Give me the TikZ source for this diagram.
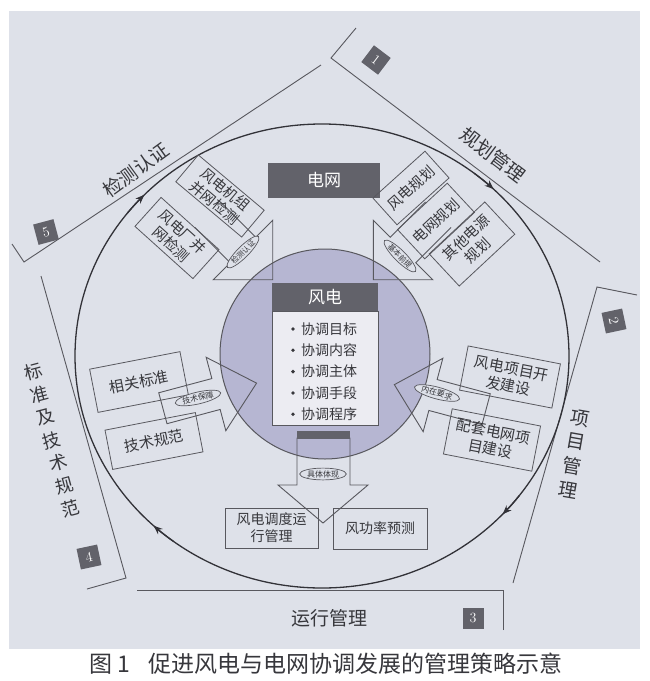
\documentclass[tikz,border=0pt]{standalone}
\usepackage{fontspec}
\newfontfamily\cjk{Noto Sans CJK SC}
\usetikzlibrary{shapes.geometric,arrows.meta,calc}
\definecolor{panelc}{RGB}{222,225,233}
\definecolor{linec}{RGB}{88,88,94}
\definecolor{ellc}{RGB}{50,50,56}
\definecolor{darkc}{RGB}{98,98,106}
\definecolor{corec}{RGB}{182,182,210}
\definecolor{bodyc}{RGB}{236,236,242}
\definecolor{txtc}{RGB}{55,55,60}
\begin{document}
\begin{tikzpicture}[x=1pt,y=1pt,
  box/.style={draw=linec, line width=0.8pt, inner sep=1pt, align=center, text=txtc, font=\cjk\fontsize{14.5}{17}\selectfont},
  sbox/.style={box, font=\cjk\fontsize{15}{18}\selectfont},
  sect/.style={draw=linec, line width=0.9pt},
  numbox/.style={fill=darkc, text=white, minimum size=21pt, inner sep=0pt, font=\fontsize{14}{14}\selectfont},
  tag/.style={ellipse, draw=linec, fill=panelc, line width=0.7pt, inner sep=0.5pt, text=txtc, font=\cjk\fontsize{8}{8}\selectfont},
  barrow/.style={draw=linec, line width=0.9pt, line join=miter},
  lbl/.style={text=txtc, font=\cjk\fontsize{19}{19}\selectfont, inner sep=0pt},
  ellarr/.style={draw=ellc, line width=1.3pt, -{Stealth[length=9pt,width=7pt]}}
]
\useasboundingbox (0,0) rectangle (649,-681);
\fill[white] (0,0) rectangle (649,-681);
\fill[panelc] (9,-11) rectangle (640,-649);

% sector brackets
\coordinate (s1a) at (356,-28); \coordinate (s1b) at (331,-58); \coordinate (s1c) at (600,-262);
\coordinate (s2a) at (637,-295); \coordinate (s2b) at (597,-287); \coordinate (s2c) at (513,-583);
\coordinate (s3a) at (503,-630); \coordinate (s3b) at (503,-590); \coordinate (s3c) at (137,-590);
\coordinate (s4a) at (87,-589); \coordinate (s4b) at (126,-578); \coordinate (s4c) at (41,-276);
\coordinate (s5a) at (12,-244); \coordinate (s5b) at (24,-262); \coordinate (s5c) at (321,-65);
\draw[sect] (s1a) -- (s1b) -- (s1c);
\draw[sect] (s2a) -- (s2b) -- (s2c);
\draw[sect] (s3a) -- (s3b) -- (s3c);
\draw[sect] (s4a) -- (s4b) -- (s4c);
\draw[sect] (s5a) -- (s5b) -- (s5c);

% number boxes
\node[numbox, rotate=-37] (n1) at (376,-60) {1};
\node[numbox, rotate=-78] (n2) at (614,-321) {2};
\node[numbox] (n3) at (473,-618) {3};
\node[numbox, rotate=12] (n4) at (89,-557) {4};
\node[numbox, rotate=15] (n5) at (46,-232) {5};

% sector labels
\node[lbl, rotate=-37] (L1) at (493,-155) {规划管理};
\node[lbl, rotate=36] (L5) at (136,-170) {检测认证};
\node[lbl] (L3) at (329,-618) {运行管理};
\foreach \k/\c in {0/项,1/目,2/管,3/理}
  \node[lbl, rotate=-10] (L2c\k) at ({580-4*\k},{-418-24*\k}) {\c};
\foreach \k/\c in {0/标,1/准,2/及,3/技,4/术,5/规,6/范}
  \node[lbl, rotate=15, font=\cjk\fontsize{18}{18}\selectfont] (L4c\k) at ({33+6.3*\k},{-372-22.7*\k}) {\c};

% outer ellipse with arrows
\coordinate (C) at (322,-356);
\draw[draw=ellc, line width=1.3pt] (C) ellipse [x radius=247, y radius=232];
\draw[ellarr] ($(C)+(142:247 and 232)$) arc[start angle=142, end angle=136, x radius=247, y radius=232];
\draw[ellarr] ($(C)+(52:247 and 232)$) arc[start angle=52, end angle=46, x radius=247, y radius=232];
\draw[ellarr] ($(C)+(-37:247 and 232)$) arc[start angle=-37, end angle=-43, x radius=247, y radius=232];
\draw[ellarr] ($(C)+(233:247 and 232)$) arc[start angle=233, end angle=227, x radius=247, y radius=232];

% inner circle
\node[circle, fill=corec, draw=linec, line width=1pt, minimum size=210pt, inner sep=0pt] (core) at (325,-354) {};

% top arrows
\begin{scope}[shift={(243,-250)}, rotate=-45]
  \draw[barrow] (-50,18) -- (0,18) -- (0,42) -- (42,0) -- (0,-42) -- (0,-18) -- (-50,-18);
\end{scope}
\begin{scope}[shift={(403,-250)}, rotate=45]
  \draw[barrow] (50,18) -- (0,18) -- (0,42) -- (-42,0) -- (0,-42) -- (0,-18) -- (50,-18);
\end{scope}
% side arrows
\begin{scope}[shift={(216,-394)}, rotate=15]
  \draw[barrow] (-55,16) -- (0,16) -- (0,38) -- (42,0) -- (0,-38) -- (0,-16) -- (-55,-16) -- cycle;
\end{scope}
\begin{scope}[shift={(433,-395)}, rotate=-15]
  \draw[barrow] (55,16) -- (0,16) -- (0,38) -- (-40,0) -- (0,-38) -- (0,-16) -- (55,-16) -- cycle;
\end{scope}
% bottom arrow
\draw[barrow] (297,-438) -- (297,-485) -- (278,-485) -- (323,-523) -- (368,-485) -- (350,-485) -- (350,-438) -- cycle;
\fill[darkc] (297,-431) rectangle (350,-439);

% grid box
\node[fill=darkc, text=white, minimum width=112pt, minimum height=35pt, inner sep=0pt, font=\cjk\fontsize{17}{17}\selectfont] (grid) at (324,-180.5) {电网};

% wind box
\node[fill=bodyc, draw=linec, line width=0.6pt, minimum width=106pt, minimum height=114pt, inner sep=0pt] (wbody) at (325,-368) {};
\node[fill=darkc, text=white, minimum width=106pt, minimum height=28pt, inner sep=0pt, font=\cjk\fontsize{17}{17}\selectfont] (whead) at (325,-297) {风电};
\foreach \k/\t in {0/协调目标,1/协调内容,2/协调主体,3/协调手段,4/协调程序}{
  \fill[txtc] (293,{-329-21.3*\k}) circle (1.9);
  \node[anchor=west, text=txtc, inner sep=0pt, font=\cjk\fontsize{14}{14}\selectfont] (item\k) at (301,{-329-21.3*\k}) {\t};
}

% boxes
\node[box, rotate=-40, minimum width=86pt, minimum height=35pt] (b1) at (220,-196) {风电机组\\并网检测};
\node[box, rotate=-42, minimum width=78pt, minimum height=39pt] (b2) at (177,-238) {风电厂并\\网检测};
\node[box, rotate=42, minimum width=70pt, minimum height=36pt] (r1) at (411,-188) {风电规划};
\node[box, rotate=43, minimum width=68pt, minimum height=40pt] (r2) at (436,-221) {电网规划};
\node[box, rotate=43, minimum width=76pt, minimum height=44pt] (r3) at (472,-244) {其他电源\\规划};
\node[sbox, rotate=11, minimum width=92pt, minimum height=44pt] (l1) at (139,-382) {相关标准};
\node[sbox, rotate=11, minimum width=92pt, minimum height=40pt] (l2) at (154,-441) {技术规范};
\node[sbox, rotate=-11, minimum width=94pt, minimum height=45pt] (q1) at (510,-377) {风电项目开\\发建设};
\node[sbox, rotate=-11, minimum width=90pt, minimum height=46pt] (q2) at (492,-440) {配套电网项\\目建设};
\node[box, font=\cjk\fontsize{14}{17}\selectfont, minimum width=93pt, minimum height=40pt] (d1) at (271.5,-528) {风电调度运\\行管理};
\node[box, font=\cjk\fontsize{14}{17}\selectfont, minimum width=94pt, minimum height=41pt] (d2) at (380,-528.5) {风功率预测};

% tags
\node[tag, rotate=45, font=\cjk\fontsize{7.5}{7.5}\selectfont] (t1) at (243,-252) {检测认证};
\node[tag, rotate=-45, font=\cjk\fontsize{7.5}{7.5}\selectfont] (t2) at (400,-256) {基本前提};
\node[tag, rotate=13] (t3) at (198,-398) {技术保障};
\node[tag, rotate=-15] (t4) at (437,-393) {内在要求};
\node[tag] (t5) at (323,-474) {具体体现};

% caption
\node[text=txtc, inner sep=0pt, font=\cjk\fontsize{23}{23}\selectfont] (cap) at (326,-664) {图 1\hspace{0.8em}促进风电与电网协调发展的管理策略示意};
\end{tikzpicture}
\end{document}
